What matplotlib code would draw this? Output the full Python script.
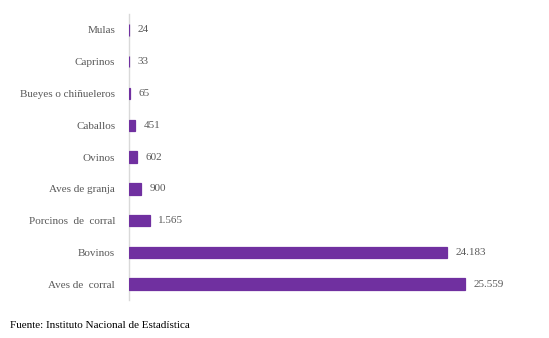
import matplotlib
matplotlib.use("Agg")
import matplotlib.pyplot as plt

categories = ["Mulas", "Caprinos", "Bueyes o chiñueleros", "Caballos", "Ovinos",
              "Aves de granja", "Porcinos  de  corral", "Bovinos", "Aves de  corral"]
values = [24, 33, 65, 451, 602, 900, 1565, 24183, 25559]

def fmt(v):
    return f"{v:,}".replace(",", ".")

plt.rcParams['font.family'] = ['Liberation Serif', 'DejaVu Serif']

fig = plt.figure(figsize=(5.49, 3.38), dpi=100)
ax = fig.add_axes([0.235, 0.1124, 0.7184, 0.8462])

y = list(range(len(categories)))
ax.barh(y, values, height=0.36, color="#7030A0", edgecolor="#7030A0",
        linewidth=0.9, zorder=3)
ax.set_ylim(len(categories) - 0.5, -0.5)
ax.set_xlim(0, 30000)
ax.set_yticks(y)
ax.set_yticklabels(categories, fontsize=8, color="#595959")
ax.tick_params(axis='y', length=0, pad=10)
ax.set_xticks([])
for s in ["top", "right", "bottom"]:
    ax.spines[s].set_visible(False)
ax.spines["left"].set_color("#d9d9d9")
ax.spines["left"].set_linewidth(1.0)
ax.spines["left"].set_zorder(1)

for yi, v in zip(y, values):
    ax.annotate(fmt(v), xy=(v, yi), xytext=(6, 0), textcoords="offset points",
                va="center", ha="left", fontsize=8, color="#595959")

fig.text(10 / 549, 1 - 325 / 338, "Fuente: Instituto Nacional de Estadística",
         fontsize=8, color="black", va="center", ha="left")

fig.savefig("out.png", dpi=100)
